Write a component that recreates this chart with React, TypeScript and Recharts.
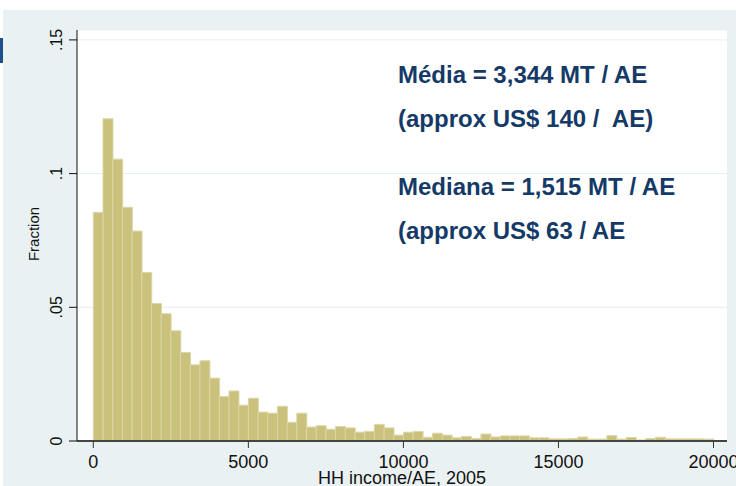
import React from 'react';
import { BarChart, Bar, XAxis, YAxis, CartesianGrid, Customized } from 'recharts';

// histogram: 64 bins of 312.5 MT, share of households per bin
const binWidth = 312.5;
const fractions = [
  0.0855, 0.1205, 0.1054, 0.0874, 0.0785, 0.063, 0.0514, 0.0476,
  0.0412, 0.0331, 0.0285, 0.03, 0.0235, 0.0166, 0.0187, 0.0134,
  0.016, 0.0108, 0.0104, 0.013, 0.007, 0.0104, 0.0052, 0.0057,
  0.0044, 0.0054, 0.0049, 0.0033, 0.0036, 0.0062, 0.0049, 0.0022,
  0.0033, 0.0036, 0.0014, 0.0029, 0.0022, 0.0012, 0.0017, 0.0009,
  0.0026, 0.0015, 0.0019, 0.0019, 0.0019, 0.0012, 0.0012, 0.0008,
  0.0008, 0.0009, 0.0015, 0.0007, 0.0007, 0.002, 0.0007, 0.0013,
  0.0004, 0.0009, 0.0014, 0.0008, 0.0008, 0.0008, 0.0008, 0.0007,
];
const xTicks = [0, 5000, 10000, 15000, 20000];
const yTicks = [0, 0.05, 0.1, 0.15];
const yTickLabels = ['0', '.05', '.1', '.15'];
const notes = [
  'Média = 3,344 MT / AE',
  '(approx US$ 140 /  AE)',
  'Mediana = 1,515 MT / AE',
  '(approx US$ 63 / AE',
];

const data = fractions.map((f, i) => ({ mid: (i + 0.5) * binWidth, fraction: f }));

const FONT = '"Liberation Sans", Arial, sans-serif';
const NAVY = '#153a68';

const YTick = (props: any) => {
  const { x, y, payload } = props;
  const idx = yTicks.indexOf(payload.value);
  return (
    <text
      x={x}
      y={y}
      transform={`rotate(-90, ${x}, ${y})`}
      textAnchor="middle"
      fontSize={16}
      fontFamily={FONT}
      fill="#111"
    >
      {idx >= 0 ? yTickLabels[idx] : payload.value}
    </text>
  );
};

const Extras = () => (
  <g fontFamily={FONT}>
    <text x={39} y={234} transform="rotate(-90, 39, 234)" textAnchor="middle" fontSize={15} fill="#111">
      Fraction
    </text>
    <text x={402} y={484} textAnchor="middle" fontSize={18} fill="#111">
      HH income/AE, 2005
    </text>
    {notes.map((n, i) => (
      <text
        key={n}
        x={398}
        y={[83, 127, 195, 239][i]}
        fontSize={24}
        fontWeight="bold"
        fill={NAVY}
        style={{ whiteSpace: 'pre' }}
      >
        {n}
      </text>
    ))}
  </g>
);

export default function App() {
  return (
    <div style={{ position: 'absolute', left: 0, top: 0, width: 736, height: 486, background: '#fff' }}>
      <div style={{ position: 'absolute', left: 3, top: 10, width: 733, height: 476, background: '#eaf1f3' }} />
      <div style={{ position: 'absolute', left: 0, top: 38, width: 3, height: 25, background: '#1f4e8c' }} />
      <div style={{ position: 'absolute', left: 0, top: 0 }}>
        <BarChart
          width={736}
          height={486}
          data={data}
          margin={{ top: 30, right: 9, bottom: 0, left: 0 }}
          barCategoryGap={0}
          barGap={0}
        >
          <CartesianGrid vertical={false} stroke="#e6eef0" fill="#ffffff" />
          <XAxis
            dataKey="mid"
            type="number"
            domain={[-526, 20435]}
            ticks={xTicks}
            height={45}
            tickSize={7}
            tickMargin={7}
            axisLine={{ stroke: '#444', strokeWidth: 2 }}
            tickLine={{ stroke: '#333' }}
            tick={{ fontSize: 18, fill: '#111', fontFamily: FONT }}
            allowDataOverflow
          />
          <YAxis
            type="number"
            domain={[0, 0.1537]}
            ticks={yTicks}
            width={77}
            tickSize={8}
            tickMargin={7}
            axisLine={{ stroke: '#111' }}
            tickLine={{ stroke: '#111' }}
            tick={<YTick />}
            allowDataOverflow
          />
          <Bar dataKey="fraction" fill="#cac17d" stroke="#ddd7a8" strokeWidth={1} isAnimationActive={false} />
          <Customized component={<Extras />} />
        </BarChart>
      </div>
    </div>
  );
}
